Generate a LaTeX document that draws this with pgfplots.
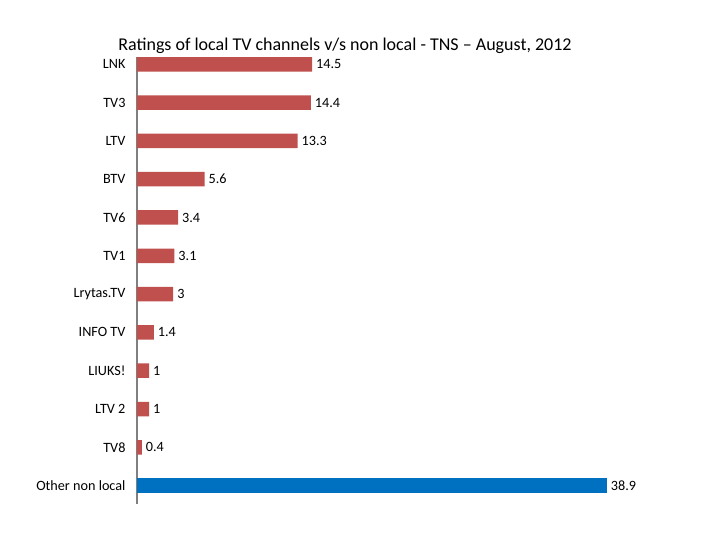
\documentclass[border=0pt]{standalone}
\usepackage{pgfplots}
\pgfplotsset{compat=1.18}
\usepackage{fontspec}
\setmainfont{Carlito}
\definecolor{barred}{HTML}{C0504D}
\definecolor{barblue}{HTML}{0070C0}
\definecolor{axgray}{HTML}{808080}
\begin{document}
\begin{tikzpicture}[x=1pt,y=1pt]
\useasboundingbox[fill=white] (0,0) rectangle (720,540);
\node[font=\fontsize{18}{21}\selectfont] at (345,494) {Ratings of local TV channels v/s non local - TNS -- August, 2012};
\begin{axis}[
  at={(137pt,36pt)}, anchor=south west,
  scale only axis, width=543.6pt, height=447pt,
  xmin=0, xmax=45,
  ymin=-0.19, ymax=11.48, y dir=reverse,
  axis x line=none,
  axis y line*=left,
  y axis line style={axgray, line width=1.5pt, -},
  ytick={0,...,11},
  yticklabels={LNK,TV3,LTV,BTV,TV6,TV1,Lrytas.TV,INFO TV,LIUKS!,LTV 2,TV8,Other non local},
  major tick length=0pt,
  yticklabel style={font=\fontsize{14.2}{16}\selectfont, xshift=-8pt},
  xbar, bar width=14.5pt,
  bar shift=0pt,
  nodes near coords,
  nodes near coords style={font=\fontsize{14.2}{16}\selectfont, anchor=west, xshift=0.5pt, black},
  point meta=explicit symbolic,
  clip=false,
]
\addplot[fill=barred, draw=none] coordinates {
(14.5,0) [14.5]
(14.4,1) [14.4]
(13.3,2) [13.3]
(5.6,3) [5.6]
(3.4,4) [3.4]
(3.1,5) [3.1]
(3,6) [3]
(1.4,7) [1.4]
(1,8) [1]
(1,9) [1]
(0.4,10) [0.4]
};
\addplot[fill=barblue, draw=none] coordinates {
(38.9,11) [38.9]
};
\end{axis}
\end{tikzpicture}
\end{document}
